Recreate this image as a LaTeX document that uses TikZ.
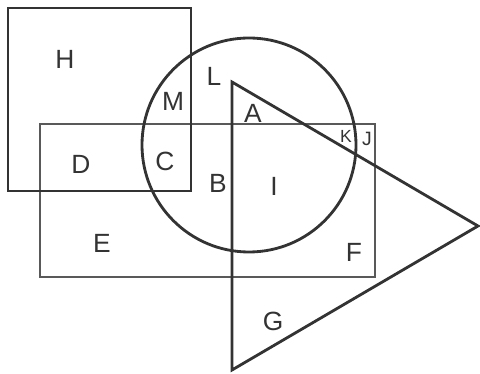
\documentclass[tikz,border=0pt]{standalone}
\usepackage{fontspec}
\setmainfont{Liberation Sans}
\usetikzlibrary{positioning}

\begin{document}
\begin{tikzpicture}[
    x=0.02cm, y=-0.02cm,
    region/.style={draw=black!80, line width=1.6pt},
    inner/.style={draw=black!65, line width=1.6pt},
    lbl/.style={font=\fontsize{15}{15}\selectfont, text=black!80, inner sep=0pt},
    tiny/.style={font=\fontsize{10}{10}\selectfont, text=black!80, inner sep=0pt}
]
\useasboundingbox (0,0) rectangle (480,374);

% Regions
\draw[inner] (40,124) rectangle (375,277);
\draw[region] (8,8) rectangle (191,191);
\draw[region] (249,145) circle (107);
\draw[region, line join=miter] (232,82) -- (478,226) -- (232,370) -- cycle;

% Region labels
\node[lbl] (H) at (65,59) {H};
\node[lbl] (L) at (214,76) {L};
\node[lbl] (M) at (173,101) {M};
\node[lbl] (A) at (253,113) {A};
\node[tiny] (K) at (346,136) {K};
\node[tiny, font=\fontsize{11}{11}\selectfont] (J) at (367,139) {J};
\node[lbl] (D) at (81,164) {D};
\node[lbl] (C) at (165,161) {C};
\node[lbl] (B) at (218,183) {B};
\node[lbl] (I) at (274,186) {I};
\node[lbl] (E) at (102,243) {E};
\node[lbl] (F) at (354,252) {F};
\node[lbl] (G) at (273,321) {G};

\end{tikzpicture}
\end{document}
